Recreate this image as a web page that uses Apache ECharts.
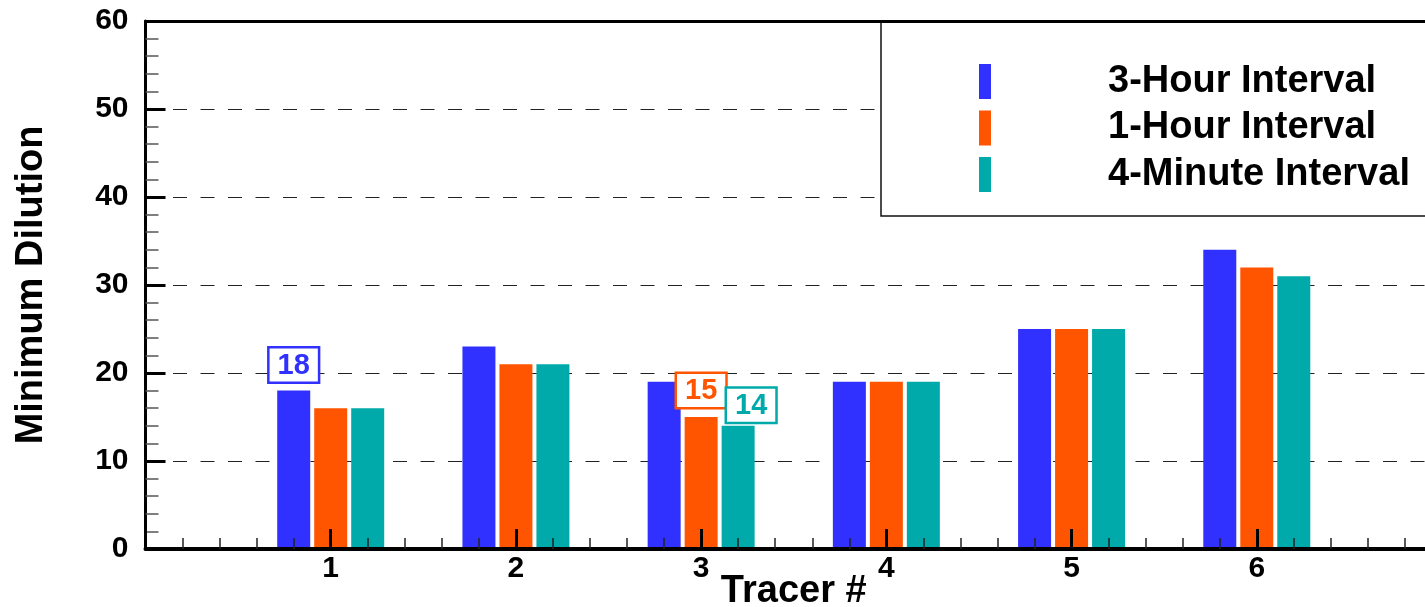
<!DOCTYPE html>
<html>
<head>
<meta charset="utf-8">
<script src="https://cdn.jsdelivr.net/npm/echarts@6/dist/echarts.min.js"></script>
<style>
  html, body { margin: 0; padding: 0; background: #fff; }
  #chart { width: 1425px; height: 607px; }
</style>
</head>
<body>
<div id="chart"></div>
<script>
// Tracer numbers along the horizontal axis
const tracers = [1, 2, 3, 4, 5, 6];
// Minimum dilution per tracer for each sampling interval
const threeHour = [18, 23, 19, 19, 25, 34];
const oneHour = [16, 21, 15, 19, 25, 32];
const fourMinute = [16, 21, 14, 19, 25, 31];
const seriesNames = ['3-Hour Interval', '1-Hour Interval', '4-Minute Interval'];
// Values called out with a boxed label: [series index, tracer]
const calledOut = [[0, 1], [1, 3], [2, 3]];

const FONT = "'Liberation Sans', Arial, Helvetica, sans-serif";
const colors = ['#3030ff', '#ff5500', '#00aaaa'];
// label placement tweaks for the boxed callouts (per series)
const calloutStyle = [
  { distance: 9, offset: [0, 0] },
  { distance: 10, offset: [0, 0] },
  { distance: 4, offset: [13, 0] }
];

const values = [threeHour, oneHour, fourMinute];

function buildData(sIdx) {
  return tracers.map((t, i) => {
    const item = { value: [t, values[sIdx][i]] };
    if (calledOut.some(c => c[0] === sIdx && c[1] === t)) {
      item.label = {
        show: true,
        position: 'top',
        distance: calloutStyle[sIdx].distance,
        offset: calloutStyle[sIdx].offset,
        formatter: p => String(p.value[1]),
        color: colors[sIdx],
        fontFamily: FONT,
        fontWeight: 'bold',
        fontSize: 29,
        lineHeight: 28,
        backgroundColor: '#fff',
        borderColor: colors[sIdx],
        borderWidth: 2.5,
        padding: [3, 8, 2, 8]
      };
    }
    return item;
  });
}

const chart = echarts.init(document.getElementById('chart'), null, { renderer: 'canvas' });

chart.setOption({
  animation: false,
  backgroundColor: '#fff',
  color: colors,
  grid: { left: 145.5, right: -17, top: 21, bottom: 58, containLabel: false, outerBoundsMode: 'none' },
  legend: {
    orient: 'vertical',
    left: 881,
    top: 22,
    icon: 'rect',
    itemWidth: 12,
    itemHeight: 35,
    itemGap: 8.5,
    padding: [40.5, 60, 22.5, 98],
    borderColor: '#111',
    borderWidth: 1.5,
    backgroundColor: '#fff',
    selectedMode: false,
    textStyle: {
      fontFamily: FONT,
      fontWeight: 'bold',
      fontSize: 38,
      lineHeight: 35,
      color: '#000',
      padding: [0, 0, 0, 112]
    },
    data: seriesNames
  },
  xAxis: [
    {
      type: 'value',
      min: 0,
      max: 7,
      interval: 1,
      z: 5,
      name: 'Tracer #',
      nameLocation: 'middle',
      nameGap: 24,
      nameMoveOverlap: false,
      nameTextStyle: {
        fontFamily: FONT,
        fontWeight: 'bold',
        fontSize: 38,
        color: '#000',
        verticalAlign: 'top'
      },
      axisLine: { show: true, onZero: false, lineStyle: { color: '#000', width: 4 } },
      axisTick: { show: true, inside: true, length: 20, lineStyle: { color: '#000', width: 3 } },
      minorTick: { show: true, splitNumber: 5, length: 11, lineStyle: { color: '#222', width: 1.5 } },
      splitLine: { show: false },
      axisLabel: {
        margin: 5,
        fontFamily: FONT,
        fontWeight: 'bold',
        fontSize: 30,
        color: '#000',
        formatter: v => (v >= 1 && v <= 6 ? String(v) : '')
      }
    },
    {
      type: 'value',
      position: 'top',
      min: 0,
      max: 7,
      interval: 1,
      z: 5,
      axisLine: { show: true, onZero: false, lineStyle: { color: '#000', width: 3 } },
      axisTick: { show: false },
      axisLabel: { show: false },
      splitLine: { show: false }
    }
  ],
  yAxis: {
    type: 'value',
    min: 0,
    max: 60,
    interval: 10,
    name: 'Minimum Dilution',
    nameLocation: 'middle',
    nameRotate: 90,
    nameGap: 95,
    nameMoveOverlap: false,
    nameTextStyle: {
      fontFamily: FONT,
      fontWeight: 'bold',
      fontSize: 38,
      color: '#000'
    },
    axisLine: { show: true, onZero: false, lineStyle: { color: '#000', width: 3 } },
    axisTick: { show: true, inside: true, length: 20, lineStyle: { color: '#000', width: 3 } },
    minorTick: { show: true, splitNumber: 5, length: 13, lineStyle: { color: '#555', width: 1.5 } },
    splitLine: { show: true, lineStyle: { color: '#222', width: 1, type: [14, 13.5] } },
    axisLabel: {
      margin: 17,
      fontFamily: FONT,
      fontWeight: 'bold',
      fontSize: 30,
      color: '#000'
    }
  },
  series: seriesNames.map((name, s) => ({
    name,
    type: 'bar',
    xAxisIndex: 0,
    barWidth: 33,
    barGap: '12.1%',
    itemStyle: { color: colors[s] },
    emphasis: { disabled: true },
    data: buildData(s)
  }))
});
</script>
</body>
</html>
